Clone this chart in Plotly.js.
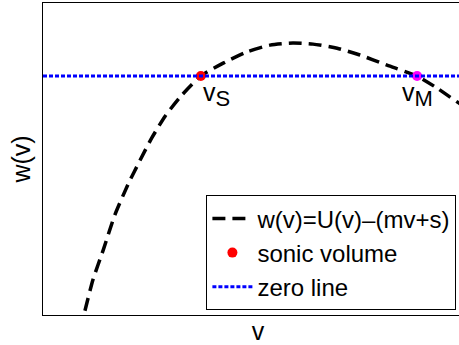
<!DOCTYPE html>
<html>
<head>
<meta charset="utf-8">
<script src="https://cdn.plot.ly/plotly-3.0.1.min.js"></script>
<style>
  html, body { margin: 0; padding: 0; overflow: hidden; background: #fff; }
</style>
</head>
<body>
<div id="plot"></div>
<script>
// w(v) curve (arbitrary units)
let vCurve = [0.086, 0.095, 0.116, 0.140, 0.167, 0.198, 0.226, 0.253, 0.284, 0.323, 0.367, 0.419,
              0.474, 0.528, 0.581, 0.628, 0.684, 0.737, 0.800, 0.870, 0.916, 0.963, 1.0];
let wCurve = [-7.47, -7.03, -6.00, -5.12, -4.09, -3.18, -2.47, -1.82, -1.18, -0.56, 0, 0.38,
              0.71, 0.91, 0.97, 0.94, 0.82, 0.62, 0.32, 0, -0.35, -0.76, -1.06];

// special points
let vSonic = [0.367];
let wSonic = [0];
let vM = [0.870];
let wM = [0];

// zero line
let vZero = [0, 1];
let wZero = [0, 0];

let font = "Liberation Sans, Arial, Helvetica, sans-serif";

let traceCurve = {
  x: vCurve,
  y: wCurve,
  type: "scatter",
  mode: "lines",
  name: "w(v)=U(v)\u2013(mv+s)",
  line: {color: "black", width: 3.5, dash: "13px,7px", shape: "spline", smoothing: 0.6}
};

let traceSonic = {
  x: vSonic,
  y: wSonic,
  type: "scatter",
  mode: "markers",
  name: "sonic volume",
  marker: {color: "red", size: 10}
};

let traceM = {
  x: vM,
  y: wM,
  type: "scatter",
  mode: "markers",
  showlegend: false,
  marker: {color: "magenta", size: 10}
};

let traceZero = {
  x: vZero,
  y: wZero,
  type: "scatter",
  mode: "lines",
  name: "zero line",
  line: {color: "blue", width: 3, dash: "4px,2px"}
};

let layout = {
  width: 480,
  height: 345,
  margin: {l: 43, r: 7, t: 3, b: 30},
  paper_bgcolor: "white",
  plot_bgcolor: "white",
  font: {family: font, size: 25, color: "black"},
  showlegend: true,
  legend: {
    x: 0.38, y: 0.015, xanchor: "left", yanchor: "bottom",
    bgcolor: "white", bordercolor: "black", borderwidth: 1,
    itemwidth: 40, tracegroupgap: 0,
    font: {family: font, size: 24, color: "black"}
  },
  xaxis: {
    range: [0, 1],
    showgrid: false, zeroline: false, showticklabels: false, ticks: "",
    showline: true, mirror: true, linecolor: "black", linewidth: 1,
    title: {text: "v", standoff: 10, font: {size: 25}}
  },
  yaxis: {
    range: [-7.03, 2.15],
    showgrid: false, zeroline: false, showticklabels: false, ticks: "",
    showline: true, mirror: true, linecolor: "black", linewidth: 1,
    title: {text: "w(v)", standoff: 4, font: {size: 25}}
  },
  annotations: [
    {x: vSonic[0], y: wSonic[0], text: "v<sub><span style='font-size:22px'>S</span></sub>", showarrow: false,
     xanchor: "left", yanchor: "top", xshift: 0, yshift: 0,
     font: {family: font, size: 25, color: "black"}},
    {x: vM[0], y: wM[0], text: "v<sub><span style='font-size:22px'>M</span></sub>", showarrow: false,
     xanchor: "center", yanchor: "top", xshift: 0, yshift: 0,
     font: {family: font, size: 25, color: "black"}}
  ]
};

Plotly.newPlot("plot", [traceCurve, traceSonic, traceM, traceZero], layout, {displayModeBar: false, staticPlot: true});
</script>
</body>
</html>
